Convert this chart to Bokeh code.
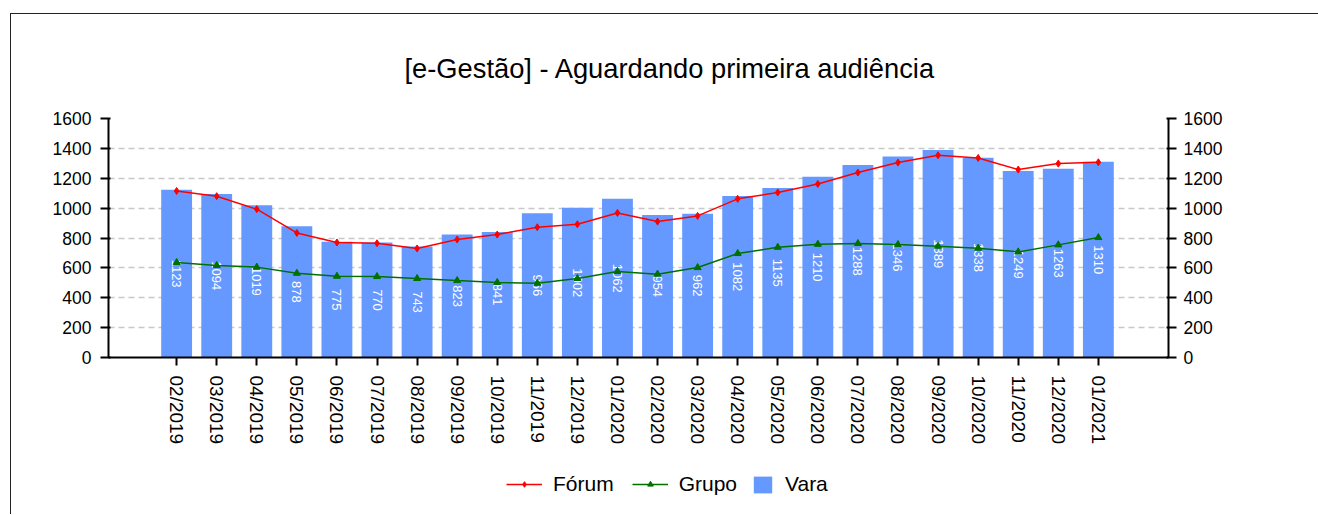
import math
from bokeh.plotting import figure
from bokeh.layouts import column
from bokeh.models import (Range1d, LinearAxis, FixedTicker, Legend, LegendItem, Title)
from bokeh.core.properties import value
from bokeh.embed import file_html
from bokeh.resources import INLINE

categories = ["02/2019", "03/2019", "04/2019", "05/2019", "06/2019", "07/2019",
              "08/2019", "09/2019", "10/2019", "11/2019", "12/2019", "01/2020",
              "02/2020", "03/2020", "04/2020", "05/2020", "06/2020", "07/2020",
              "08/2020", "09/2020", "10/2020", "11/2020", "12/2020", "01/2021"]
vara = [1123, 1094, 1019, 878, 775, 770, 743, 823, 841, 966, 1002, 1062,
        954, 962, 1082, 1135, 1210, 1288, 1346, 1389, 1338, 1249, 1263, 1310]
forum = [1115, 1080, 993, 834, 770, 765, 730, 790, 823, 872, 892, 968,
         910, 948, 1062, 1105, 1162, 1238, 1305, 1354, 1336, 1258, 1298, 1307]
grupo = [636, 616, 605, 564, 544, 542, 529, 515, 502, 497, 529, 576,
         558, 602, 696, 738, 758, 763, 756, 745, 732, 707, 754, 803]
y_ticks = [0, 200, 400, 600, 800, 1000, 1200, 1400, 1600]

xs = list(range(len(categories)))
FONT = "Liberation Sans"
BAR = "#6699FF"
RED = "#FF0000"
GREEN = "#007000"

p = figure(width=1307, height=443, output_backend="svg", toolbar_location=None,
           x_range=Range1d(-1.7, 24.75), y_range=Range1d(0, 1600),
           min_border_left=97, min_border_right=150, min_border_top=104,
           min_border_bottom=100, outline_line_color=None)

p.title = Title(text="[e-Gestão]  - Aguardando primeira audiência", align="left",
                offset=296, text_font=FONT, text_font_size="27.3px",
                text_font_style="normal", text_color="#000000", standoff=70)

# bars
p.vbar(x=xs, top=vara, width=0.77, fill_color=BAR, line_color=None)
# value labels
p.text(x=xs, y=[v / 2 for v in vara], text=[str(v) for v in vara],
       angle=-math.pi / 2, text_align="center", text_baseline="middle",
       text_color="white", text_font=value(FONT), text_font_size="13px")

# lines
p.line(xs, forum, line_color=RED, line_width=1.5)
p.scatter(xs, forum, marker="diamond", size=7, fill_color=RED, line_color=RED)
p.line(xs, grupo, line_color=GREEN, line_width=1.5)
p.scatter(xs, grupo, marker="triangle", size=7, fill_color=GREEN, line_color=GREEN)

# grid
p.xgrid.visible = False
p.ygrid.ticker = FixedTicker(ticks=y_ticks)
p.ygrid.grid_line_color = "#c8c8c8"
p.ygrid.grid_line_dash = "6 4"
p.ygrid.grid_line_width = 1.5

def style_y(ax, standoff):
    ax.ticker = FixedTicker(ticks=y_ticks)
    ax.axis_line_color = "black"
    ax.axis_line_width = 2
    ax.major_tick_line_color = "black"
    ax.major_tick_line_width = 2
    ax.major_tick_out = 8
    ax.major_tick_in = 2
    ax.minor_tick_line_color = None
    ax.major_label_text_font = FONT
    ax.major_label_text_font_size = "17.5px"
    ax.major_label_text_color = "black"
    ax.major_label_standoff = standoff

style_y(p.yaxis[0], 9)
right = LinearAxis()
style_y(right, 7)
p.add_layout(right, "right")

xa = p.xaxis[0]
xa.ticker = FixedTicker(ticks=xs)
xa.major_label_overrides = {i: c for i, c in enumerate(categories)}
xa.major_label_orientation = -math.pi / 2
xa.axis_line_color = "black"
xa.axis_line_width = 2
xa.major_tick_line_color = "black"
xa.major_tick_line_width = 2
xa.major_tick_out = 8
xa.major_tick_in = 0
xa.minor_tick_line_color = None
xa.major_label_text_font = FONT
xa.major_label_text_font_size = "19px"
xa.major_label_text_color = "black"
xa.major_label_standoff = 10

# legend strip (separate figure so the legend is not clipped)
q = figure(width=1307, height=57, output_backend="svg", toolbar_location=None,
           x_range=Range1d(0, 1), y_range=Range1d(0, 1),
           min_border_left=0, min_border_right=0, min_border_top=0,
           min_border_bottom=0, outline_line_color=None)
q.axis.visible = False
q.grid.visible = False
lf = q.line([-10, -9], [-10, -9], line_color=RED, line_width=1.5)
mf = q.scatter([-10], [-10], marker="diamond", size=7, fill_color=RED, line_color=RED)
lg = q.line([-10, -9], [-10, -9], line_color=GREEN, line_width=1.5)
mg = q.scatter([-10], [-10], marker="triangle", size=7, fill_color=GREEN, line_color=GREEN)
bv = q.vbar(x=[-10], top=[-9], bottom=[-10], width=0.5, fill_color=BAR, line_color=None)

def make_legend(items, loc, gw, gh):
    return Legend(items=items, location=loc, orientation="horizontal",
                  glyph_width=gw, glyph_height=gh, label_standoff=11, spacing=18,
                  padding=0, margin=0, border_line_alpha=0, background_fill_alpha=0,
                  label_text_font=FONT, label_text_font_size="21px",
                  label_text_color="black")

leg1 = make_legend([LegendItem(label="Fórum", renderers=[lf, mf]),
                    LegendItem(label="Grupo", renderers=[lg, mg])], (398, 18), 36, 14)
leg2 = make_legend([LegendItem(label="Vara", renderers=[bv])], (643, 18), 23, 21)
q.add_layout(leg1, "center")
q.add_layout(leg2, "center")

layout = column(p, q, spacing=0,
                styles={"margin-left": "10px", "margin-top": "13px",
                        "border-left": "1px solid #222", "border-top": "1px solid #222"})

open("out.html", "w").write(file_html(layout, INLINE))
